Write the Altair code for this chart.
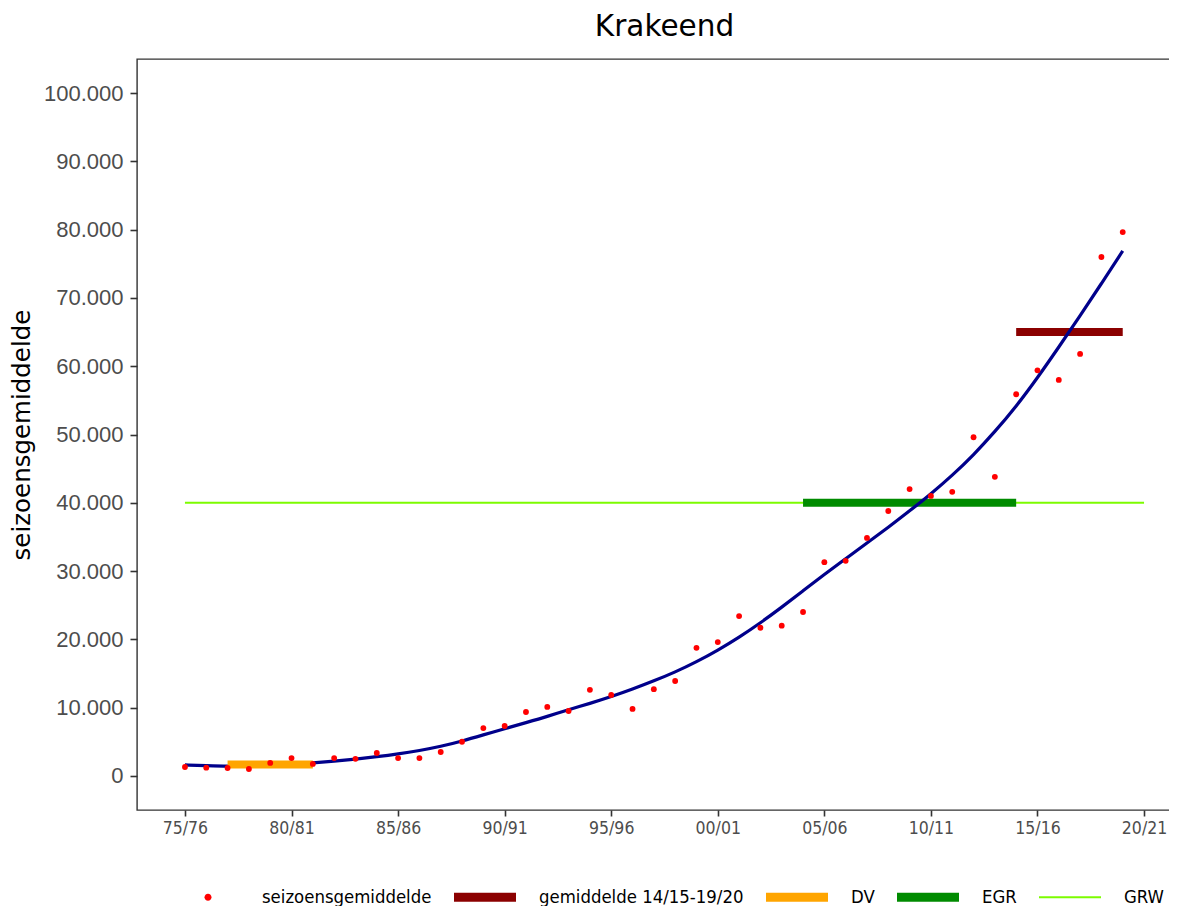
import altair as alt
import pandas as pd

chart_title = "Krakeend"
y_title = "seizoensgemiddelde"

# season start years: 75/76 .. 19/20
season_start = list(range(1975, 2020))
season_mean = [1300, 1200, 1150, 1000, 1900, 2600, 1750, 2600, 2500, 3350,
               2600, 2600, 3500, 5000, 7000, 7300, 9350, 10100, 9500, 12600,
               11850, 9800, 12700, 13900, 18750, 19600, 23400, 21700, 22000, 24000,
               31300, 31500, 34850, 38800, 42000, 41000, 41600, 49600, 43800, 55900,
               59400, 58000, 61800, 76000, 79650]
trend = [1600, 1500, 1400, 1400, 1500, 1700, 1900, 2150, 2450, 2800,
         3200, 3700, 4300, 5100, 6000, 6900, 7800, 8700, 9700, 10600,
         11600, 12700, 13900, 15200, 16700, 18400, 20300, 22400, 24700, 27100,
         29500, 31800, 34100, 36400, 38800, 41300, 44000, 47000, 50400, 54100,
         58300, 62800, 67400, 72100, 76900]

tick_years = [1975, 1980, 1985, 1990, 1995, 2000, 2005, 2010, 2015, 2020]
tick_labels = ["75/76", "80/81", "85/86", "90/91", "95/96",
               "00/01", "05/06", "10/11", "15/16", "20/21"]
y_ticks = [0, 10000, 20000, 30000, 40000, 50000, 60000, 70000, 80000, 90000, 100000]

series_names = ["seizoensgemiddelde", "gemiddelde 14/15-19/20", "DV", "EGR", "GRW"]
series_colors = ["#FF0000", "#8B0000", "#FFA500", "#008B00", "#7CFC00"]
series_shapes = [
    "M-0.35,0A0.35,0.35 0 1,0 0.35,0A0.35,0.35 0 1,0 -0.35,0Z",
    "M-3.1,-0.45H3.1V0.45H-3.1Z",
    "M-3.1,-0.45H3.1V0.45H-3.1Z",
    "M-3.1,-0.45H3.1V0.45H-3.1Z",
    "M-3.1,-0.1H3.1V0.1H-3.1Z",
]

seg_names = ["gemiddelde 14/15-19/20", "DV", "EGR", "GRW"]
seg_start = [2014, 1977, 2004, 1975]
seg_end = [2019, 1981, 2014, 2020]
seg_value = [65000, 1650, 40000, 40000]

df_pts = pd.DataFrame({"jaar": season_start, "waarde": season_mean, "trend": trend})
df_seg = pd.DataFrame({"serie": seg_names, "van": seg_start, "tot": seg_end, "waarde": seg_value})
df_leg = pd.DataFrame({"serie": series_names})

xscale = alt.Scale(domain=[1972.75, 2022.25], nice=False, zero=False)
yscale = alt.Scale(domain=[-5000, 105000], nice=False, zero=False)

label_expr = " : ".join(
    f"datum.value == {y} ? '{l}'" for y, l in zip(tick_years, tick_labels)
) + " : ''"

axis_col = "#333333"
cond_font = "DejaVu Sans Condensed, Liberation Sans Narrow, DejaVu Sans"
x_axis = alt.Axis(values=tick_years, labelExpr=label_expr, title=None, grid=False,
                  domain=False, tickColor=axis_col, tickWidth=1.6,
                  tickSize=6, labelPadding=3, labelColor="#4D4D4D",
                  labelFont=cond_font, labelFontSize=17.5)
y_axis = alt.Axis(values=y_ticks, labelExpr="replace(format(datum.value, ','), ',', '.')",
                  title=y_title, grid=False, domain=False,
                  tickColor=axis_col, tickWidth=1.6, tickSize=7, labelPadding=7,
                  labelColor="#4D4D4D", labelFont="Liberation Sans", labelFontSize=22,
                  titleFont="DejaVu Sans", titleFontSize=24.5, titleFontWeight="normal",
                  titleColor="black", titlePadding=9)


def seg_layer(name, color, width):
    return alt.Chart(df_seg).transform_filter(alt.datum.serie == name).mark_rule(
        color=color, strokeWidth=width, strokeCap="butt").encode(
        x=alt.X("van:Q", scale=xscale, axis=x_axis),
        x2="tot:Q",
        y=alt.Y("waarde:Q", scale=yscale, axis=y_axis))


grw = seg_layer("GRW", "#7CFC00", 2)
egr = seg_layer("EGR", "#008B00", 8)
gem = seg_layer("gemiddelde 14/15-19/20", "#8B0000", 8)
dv = seg_layer("DV", "#FFA500", 8)

line = alt.Chart(df_pts).mark_line(color="#00008B", strokeWidth=3.2, interpolate="basis").encode(
    x=alt.X("jaar:Q", scale=xscale, axis=x_axis),
    y=alt.Y("trend:Q", scale=yscale, axis=y_axis))

pts = alt.Chart(df_pts).mark_circle(size=34, color="#FF0000", opacity=1).encode(
    x=alt.X("jaar:Q", scale=xscale, axis=x_axis),
    y=alt.Y("waarde:Q", scale=yscale, axis=y_axis))

legend = alt.Legend(title=None, orient="none", direction="horizontal", legendX=61, legendY=828,
                    symbolSize=400, symbolStrokeWidth=0, symbolOpacity=1, labelOffset=44,
                    columnPadding=22, padding=0, labelFontSize=18.4, labelColor="black",
                    labelFont=cond_font, labelLimit=400)
leg = alt.Chart(df_leg).mark_point(filled=True, opacity=0).encode(
    x=alt.value(0), y=alt.value(0),
    color=alt.Color("serie:N", scale=alt.Scale(domain=series_names, range=series_colors), legend=legend),
    shape=alt.Shape("serie:N", scale=alt.Scale(domain=series_names, range=series_shapes), legend=legend))

chart = alt.layer(grw, egr, gem, line, dv, pts, leg).properties(
    width=1055, height=751,
    title=alt.TitleParams(chart_title, font="DejaVu Sans", fontSize=29.5, fontWeight="normal",
                          color="black", anchor="middle", offset=15),
    padding={"left": 129, "top": 51, "right": -23, "bottom": 96},
    autosize=alt.AutoSizeParams(type="none"),
).configure_view(stroke=axis_col, strokeWidth=1.4)

chart.save("out.html", embed_options={"renderer": "svg", "actions": False})
